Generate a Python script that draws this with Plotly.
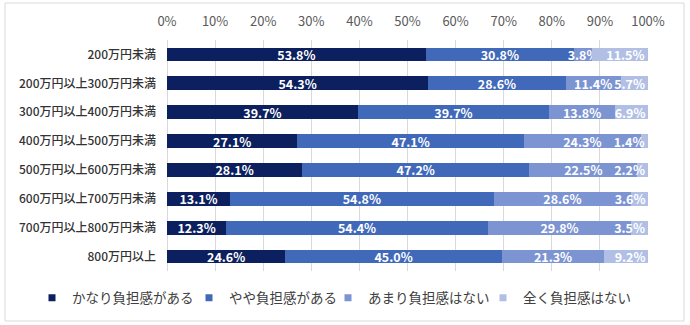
import plotly.graph_objects as go

categories = ["200万円未満", "200万円以上300万円未満", "300万円以上400万円未満",
              "400万円以上500万円未満", "500万円以上600万円未満", "600万円以上700万円未満",
              "700万円以上800万円未満", "800万円以上"]
series_names = ["かなり負担感がある", "やや負担感がある", "あまり負担感はない", "全く負担感はない"]
s1 = [53.8, 54.3, 39.7, 27.1, 28.1, 13.1, 12.3, 24.6]
s2 = [30.8, 28.6, 39.7, 47.1, 47.2, 54.8, 54.4, 45.0]
s3 = [3.8, 11.4, 13.8, 24.3, 22.5, 28.6, 29.8, 21.3]
s4 = [11.5, 5.7, 6.9, 1.4, 2.2, 3.6, 3.5, 9.2]
tick_vals = [0, 10, 20, 30, 40, 50, 60, 70, 80, 90, 100]

colors = ["#0c1f5e", "#4169b9", "#7d94d2", "#b2bfe5"]
anchors = ["middle", "middle", "middle", "end"]
legend_widths = [112, 94, 110, 110]

JP = "Noto Sans CJK JP"
fig = go.Figure()
for name, vals, col, anc in zip(series_names, [s1, s2, s3, s4], colors, anchors):
    fig.add_trace(go.Bar(
        y=categories, x=vals, name=name, orientation="h",
        marker=dict(color=col, line=dict(width=0)),
        texttemplate="%{x:.1f}%", textposition="inside", textangle=0,
        insidetextanchor=anc, constraintext="none",
        textfont=dict(family=JP, size=12.5, color="white", weight="bold"),
        showlegend=False, legendgroup=name,
    ))
# legend entries (small square keys)
for name, col, lw in zip(series_names, colors, legend_widths):
    fig.add_trace(go.Scatter(
        x=[None], y=[None], mode="markers", name=name, legendgroup=name,
        marker=dict(symbol="square", size=7, color=col), showlegend=True,
        legendwidth=lw,
    ))

W, H = 690, 325
L, R, T, B = 167, 42, 40, 54
pw, ph = W - L - R, H - T - B

fig.update_layout(
    width=W, height=H, barmode="stack", bargap=0.52,
    margin=dict(l=L, r=R, t=T, b=B),
    paper_bgcolor="white", plot_bgcolor="white",
    uniformtext=dict(minsize=12.5, mode="show"),
    font=dict(family=JP),
    xaxis=dict(side="top", range=[0, 100], tickvals=tick_vals,
               ticktext=[f"{v}%" for v in tick_vals],
               showgrid=True, gridcolor="#d9d9d9", gridwidth=1,
               zeroline=True, zerolinecolor="#d9d9d9", zerolinewidth=1,
               showline=False, ticks="", ticklabelstandoff=10,
               tickfont=dict(family=JP, size=13, color="#595959")),
    yaxis=dict(autorange="reversed", showgrid=False, zeroline=False,
               ticks="", ticklabelstandoff=10,
               tickfont=dict(family=JP, size=12, color="#333333", weight=500)),
    legend=dict(orientation="h", xref="paper", yref="paper",
                x=(32 - L) / pw, xanchor="left",
                y=(T + ph - 298) / ph, yanchor="middle",
                font=dict(family=JP, size=13.5, color="#404040"),
                itemwidth=30, traceorder="normal"),
    showlegend=True,
    shapes=[dict(type="rect", xref="paper", yref="paper",
                 x0=(5 - L) / pw, x1=(684 - L) / pw,
                 y0=(T + ph - 321) / ph, y1=(T + ph - 3) / ph,
                 line=dict(color="#d9d9d9", width=1), layer="below")],
)

fig.write_html("out.html")
